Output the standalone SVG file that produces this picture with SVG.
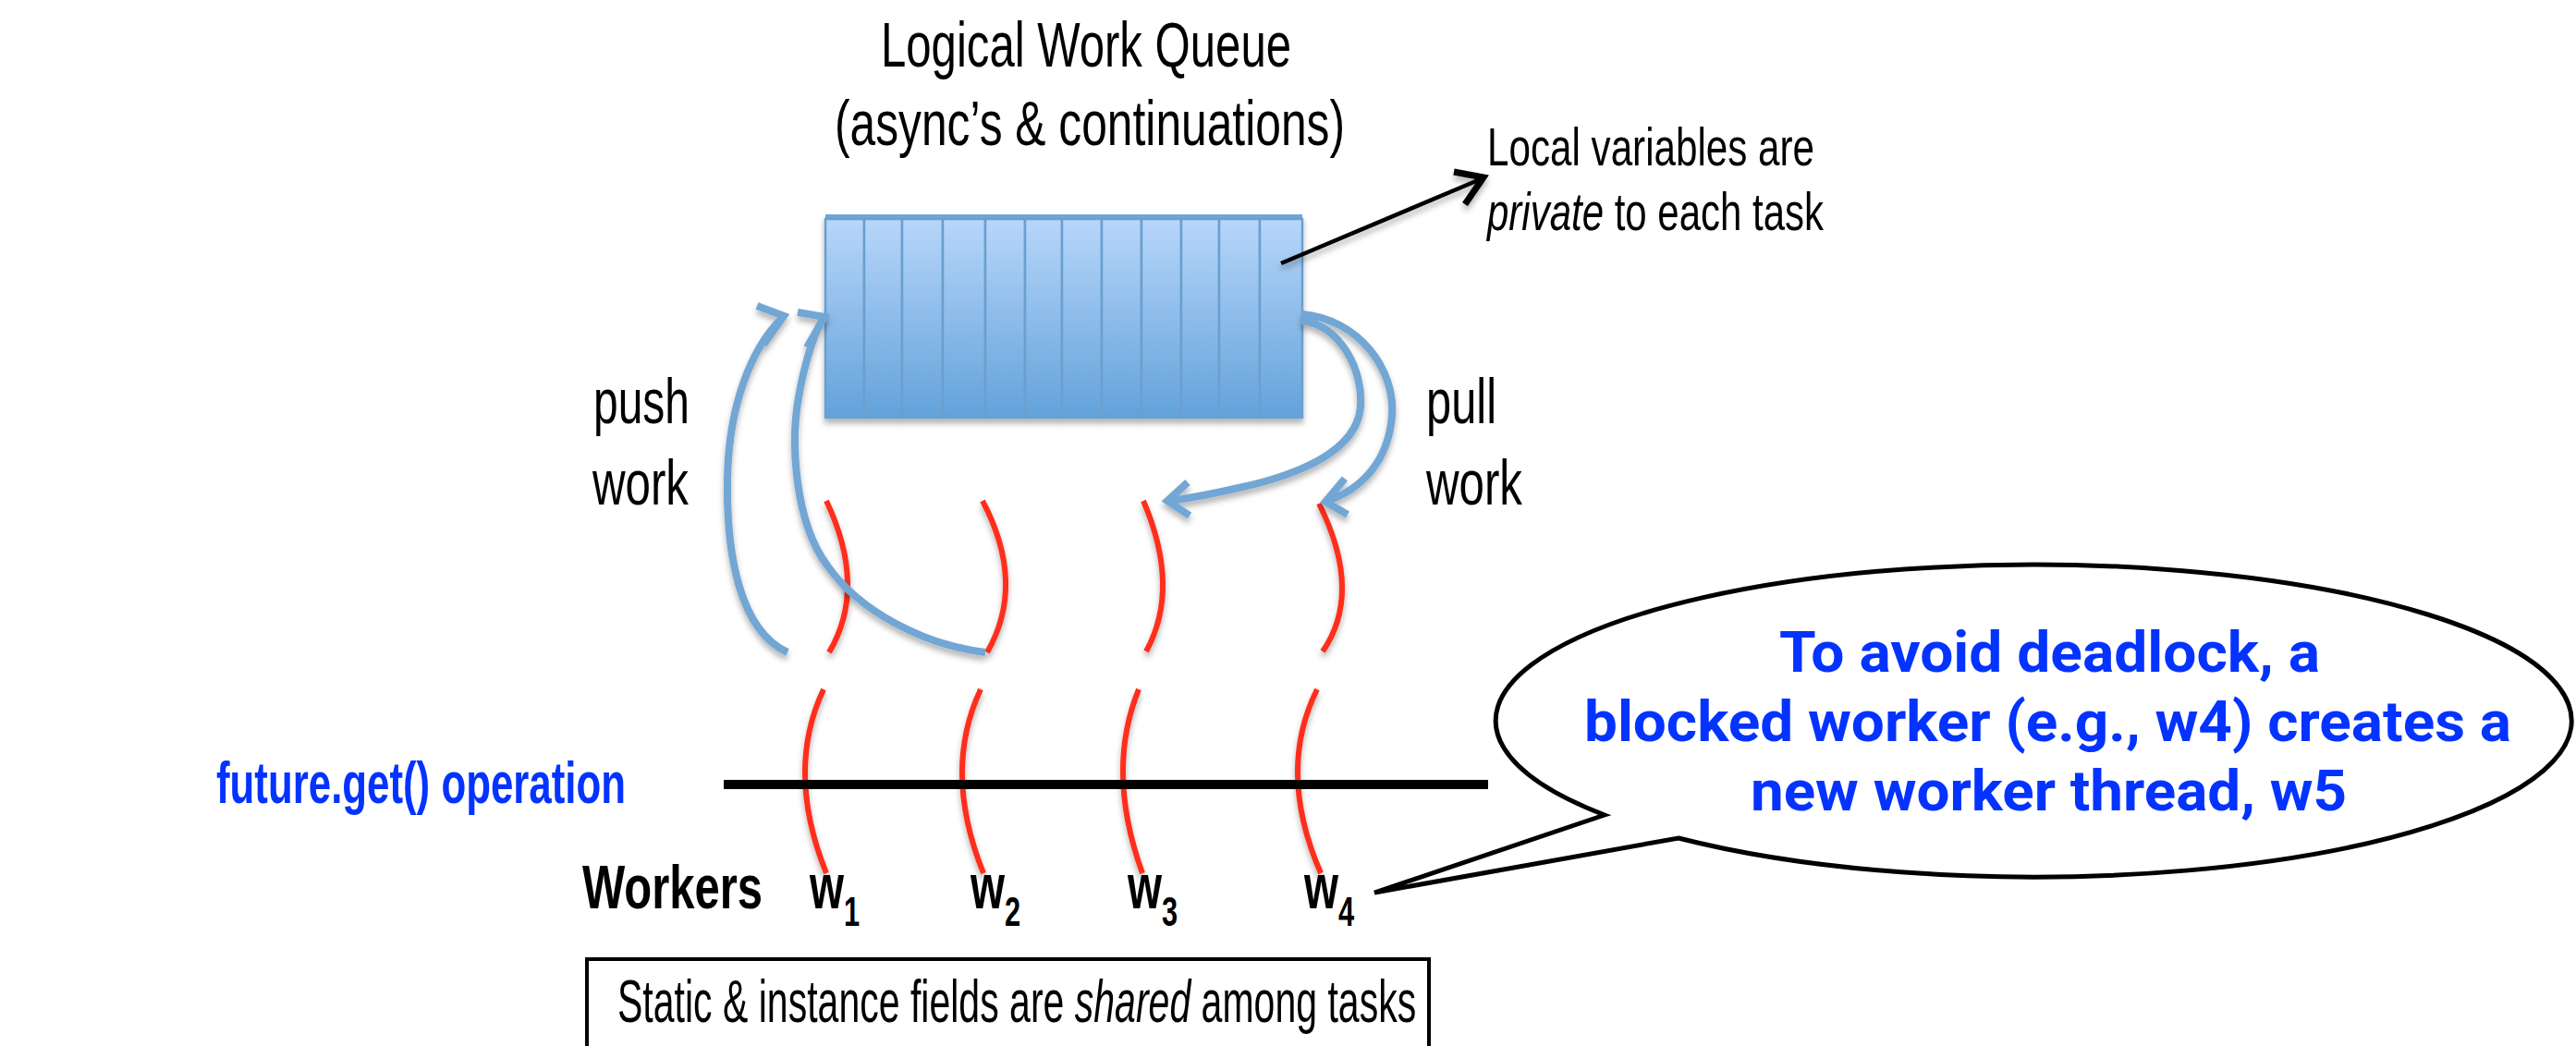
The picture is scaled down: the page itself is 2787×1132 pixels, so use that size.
<svg xmlns="http://www.w3.org/2000/svg" width="2787" height="1132" viewBox="0 0 2787 1132">
  <defs>
    <linearGradient id="cellFill" x1="0" y1="0" x2="0" y2="1">
      <stop offset="0" stop-color="#b7d6fa"/>
      <stop offset="1" stop-color="#62a2da"/>
    </linearGradient>
    <filter id="soft" x="-20%" y="-20%" width="140%" height="150%">
      <feDropShadow dx="0" dy="5" stdDeviation="3" flood-color="#000" flood-opacity="0.3"/>
    </filter>
    <style>
      .lbl { font-family: "Liberation Sans", Arial, sans-serif; fill: #000; }
      .blue { font-family: "Liberation Sans", Arial, sans-serif; font-weight: bold; fill: #0433ff; }
      .call { font-family: Roboto, "Liberation Sans", sans-serif; font-weight: bold; fill: #0433ff; }
      .thread { fill: none; stroke: #ff2d1a; stroke-width: 6; stroke-linecap: butt; }
      .flow { fill: none; stroke: #72a6d4; stroke-width: 8; stroke-linecap: butt; stroke-linejoin: miter; }
      .cell { fill: url(#cellFill); stroke: #6a9fcf; stroke-width: 2.5; }
    </style>
  </defs>

  <rect width="2787" height="1132" fill="#fff"/>

  <!-- title -->
  <g id="queue-title">
    <text class="lbl" x="953" y="72" font-size="69" textLength="444" lengthAdjust="spacingAndGlyphs">Logical Work Queue</text>
    <text class="lbl" x="903" y="157" font-size="69" textLength="552" lengthAdjust="spacingAndGlyphs">(async’s &amp; continuations)</text>
  </g>

  <!-- work queue of 12 slots -->
  <g id="work-queue" filter="url(#soft)">
    <rect x="893" y="232" width="516" height="220" fill="#6ea6d8"/>
    <rect class="cell" x="893" y="237" width="42" height="215"/>
    <rect class="cell" x="935" y="237" width="41" height="215"/>
    <rect class="cell" x="976" y="237" width="44" height="215"/>
    <rect class="cell" x="1020" y="237" width="46" height="215"/>
    <rect class="cell" x="1066" y="237" width="43" height="215"/>
    <rect class="cell" x="1109" y="237" width="40" height="215"/>
    <rect class="cell" x="1149" y="237" width="43" height="215"/>
    <rect class="cell" x="1192" y="237" width="43" height="215"/>
    <rect class="cell" x="1235" y="237" width="43" height="215"/>
    <rect class="cell" x="1278" y="237" width="41" height="215"/>
    <rect class="cell" x="1319" y="237" width="44" height="215"/>
    <rect class="cell" x="1363" y="237" width="46" height="215"/>
  </g>

  <!-- note on local variables -->
  <g id="local-note">
    <text class="lbl" x="1609" y="179" font-size="58" textLength="354" lengthAdjust="spacingAndGlyphs">Local variables are</text>
    <text class="lbl" font-size="58" transform="translate(1609,249) scale(0.724,1)"><tspan font-style="italic">private</tspan> to each task</text>
  </g>

  <!-- side labels -->
  <g id="push-label">
    <text class="lbl" x="642" y="458" font-size="68" textLength="104" lengthAdjust="spacingAndGlyphs">push</text>
    <text class="lbl" x="641" y="546" font-size="68" textLength="104" lengthAdjust="spacingAndGlyphs">work</text>
  </g>
  <g id="pull-label">
    <text class="lbl" x="1543" y="458" font-size="68" textLength="76" lengthAdjust="spacingAndGlyphs">pull</text>
    <text class="lbl" x="1543" y="546" font-size="68" textLength="104" lengthAdjust="spacingAndGlyphs">work</text>
  </g>

  <!-- worker threads -->
  <g id="worker-threads" filter="url(#soft)">
    <path class="thread" d="M894,542 Q938.5,636 897,706"/>
    <path class="thread" d="M1063,542 Q1110.5,632 1068,706"/>
    <path class="thread" d="M1237,542 Q1277.5,636.5 1240,705"/>
    <path class="thread" d="M1427,545 Q1475,641 1431,705"/>
    <path class="thread" d="M891,746 Q849.5,834.5 894,945"/>
    <path class="thread" d="M1061,746 Q1019.5,834.5 1064,945"/>
    <path class="thread" d="M1232,746 Q1196,834.5 1236,945"/>
    <path class="thread" d="M1425,746 Q1381,834.5 1429,945"/>
  </g>

  <!-- future.get() barrier -->
  <g id="get-barrier">
    <rect x="783" y="844" width="827" height="10" fill="#000"/>
    <text class="blue" x="234" y="869" font-size="63" textLength="443" lengthAdjust="spacingAndGlyphs">future.get() operation</text>
  </g>

  <!-- worker labels -->
  <g id="worker-labels" class="lbl" font-weight="bold">
    <text x="630" y="983" font-size="66" textLength="195" lengthAdjust="spacingAndGlyphs">Workers</text>
    <text font-size="68" transform="translate(876,983) scale(0.7,1)">w<tspan font-size="44" dy="19">1</tspan></text>
    <text font-size="68" transform="translate(1050,983) scale(0.7,1)">w<tspan font-size="44" dy="19">2</tspan></text>
    <text font-size="68" transform="translate(1220,983) scale(0.7,1)">w<tspan font-size="44" dy="19">3</tspan></text>
    <text font-size="68" transform="translate(1411,983) scale(0.7,1)">w<tspan font-size="44" dy="19">4</tspan></text>
  </g>

  <!-- shared fields box -->
  <g id="shared-box">
    <rect x="635" y="1038" width="911" height="100" fill="#fff" stroke="#000" stroke-width="4"/>
    <text class="lbl" font-size="64" transform="translate(668,1106) scale(0.641,1)">Static &amp; instance fields are <tspan font-style="italic">shared</tspan> among tasks</text>
  </g>

  <!-- speech bubble -->
  <g id="deadlock-callout">
    <path d="M1736,882 L1487,966 L1816,907 A582,169 0 1,0 1736,882 Z" fill="#fff" stroke="#000" stroke-width="5" stroke-linejoin="miter"/>
    <text class="call" x="1925" y="727" font-size="62" textLength="585" lengthAdjust="spacingAndGlyphs">To avoid deadlock, a</text>
    <text class="call" x="1714" y="802" font-size="62" textLength="1003" lengthAdjust="spacingAndGlyphs">blocked worker (e.g., w4) creates a</text>
    <text class="call" x="1894" y="877" font-size="62" textLength="645" lengthAdjust="spacingAndGlyphs">new worker thread, w5</text>
  </g>

  <!-- connectors -->
  <g id="connectors">
    <!-- local variable pointer -->
    <g fill="none" stroke="#000" filter="url(#soft)">
      <path d="M1386,285 L1604,193" stroke-width="4.5"/>
      <path d="M1573,186 L1605,192 L1585,221" stroke-width="7" stroke-linejoin="miter"/>
    </g>
    <g filter="url(#soft)">
      <!-- push work: worker 1 -->
      <path class="flow" d="M852,706 C800,682 786,600 787,520 C788,440 812,378 846,344"/>
      <path class="flow" d="M819,331 L848,342 L826,373"/>
      <!-- push work: worker 2 -->
      <path class="flow" d="M1066,706 C1000,698 930,662 895,612 C860,565 855,480 864,430 C871,390 881,362 890,345"/>
      <path class="flow" d="M863,338 L892,343 L873,376"/>
      <!-- pull work: worker 4 -->
      <path class="flow" d="M1408,340 C1470,345 1510,400 1506,450 C1502,500 1472,530 1436,542"/>
      <path class="flow" d="M1455,518 L1434,543 L1458,557"/>
      <!-- pull work: worker 3 -->
      <path class="flow" d="M1408,347 C1450,352 1475,400 1472,440 C1468,490 1400,515 1340,528 C1310,535 1288,539 1266,542"/>
      <path class="flow" d="M1285,522 L1263,542 L1287,558"/>
    </g>
  </g>
</svg>
